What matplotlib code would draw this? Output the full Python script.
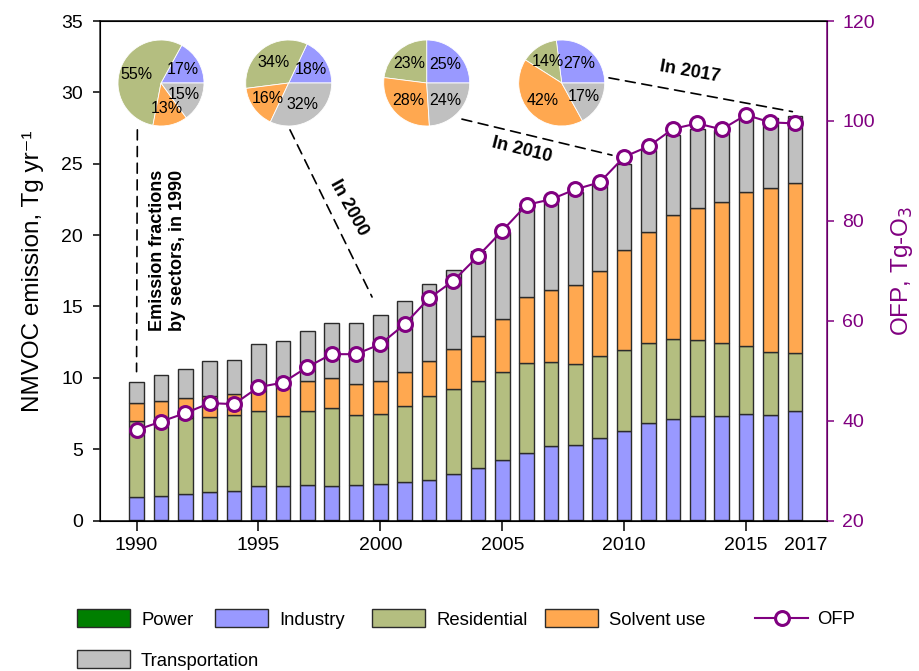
import matplotlib
matplotlib.use("Agg")
import matplotlib.pyplot as plt
from matplotlib.patches import Patch, ConnectionPatch
from matplotlib.lines import Line2D
from matplotlib.transforms import ScaledTranslation
import numpy as np

plt.rcParams['font.family'] = ['Liberation Sans', 'DejaVu Sans']

years = list(range(1990, 2018))
power = [0.03]*10 + [0.04]*10 + [0.05]*8
industry = [1.60, 1.70, 1.84, 1.95, 2.05, 2.37, 2.42, 2.49, 2.42, 2.49,
            2.55, 2.64, 2.81, 3.21, 3.62, 4.21, 4.70, 5.16, 5.28, 5.77,
            6.25, 6.76, 7.07, 7.25, 7.30, 7.44, 7.35, 7.65]
residential = [5.35, 5.27, 5.32, 5.28, 5.29, 5.25, 4.90, 5.16, 5.44, 4.90,
               4.88, 5.35, 5.85, 5.94, 6.14, 6.18, 6.32, 5.90, 5.67, 5.69,
               5.65, 5.60, 5.57, 5.35, 5.06, 4.71, 4.38, 4.06]
solvent = [1.26, 1.35, 1.40, 1.49, 1.52, 1.40, 1.98, 2.07, 2.10, 2.17,
           2.31, 2.35, 2.50, 2.82, 3.13, 3.69, 4.57, 5.07, 5.51, 5.98,
           7.02, 7.82, 8.71, 9.24, 9.92, 10.83, 11.51, 11.90]
transport = [1.47, 1.82, 2.05, 2.45, 2.33, 3.32, 3.22, 3.55, 3.84, 4.27,
             4.64, 5.02, 5.37, 5.55, 5.92, 6.08, 6.26, 6.23, 6.55, 6.02,
             6.04, 5.72, 5.60, 5.53, 5.02, 5.32, 4.91, 4.69]
ofp = [38.1, 39.8, 41.5, 43.5, 43.3, 46.7, 47.6, 50.7, 53.3, 53.3,
       55.3, 59.3, 64.5, 68.0, 72.9, 78.0, 83.2, 84.3, 86.3, 87.7,
       92.8, 94.9, 98.4, 99.5, 98.3, 101.2, 99.7, 99.5]

pie_years = [1990, 2000, 2010, 2017]
# shares: industry, residential, solvent use, transportation (%)
pie_shares = [[17, 55, 13, 15],
              [18, 34, 16, 32],
              [25, 23, 28, 24],
              [27, 14, 42, 17]]

sector_names = ['Power', 'Industry', 'Residential', 'Solvent use', 'Transportation']
colors = {'Power': '#007F00', 'Industry': '#9999FF', 'Residential': '#B4BE80',
          'Solvent use': '#FFA850', 'Transportation': '#C0C0C0'}
purple = '#800080'
edge = '#2b2b2b'

W, H = 919, 671
fig = plt.figure(figsize=(W/100, H/100), dpi=100)
ax = fig.add_axes([99.5/W, 1-520.5/H, (827-99.5)/W, (520.5-21)/H])

series = [power, industry, residential, solvent, transport]
bottom = np.zeros(len(years))
for name, vals in zip(sector_names, series):
    ax.bar(years, vals, width=0.6, bottom=bottom, color=colors[name],
           edgecolor=edge, linewidth=1.0, zorder=2)
    bottom = bottom + np.array(vals)

ax.set_xlim(1988.48, 2018.32)
ax.set_ylim(0, 35)
ax.set_yticks(range(0, 36, 5))
ax.set_xticks([1990, 1995, 2000, 2005, 2010, 2015, 2017])
ax.set_xticklabels(['1990', '1995', '2000', '2005', '2010', '2015', '2017'])
ax.tick_params(axis='x', direction='out', length=7, width=1.1, labelsize=14, pad=5)
ax.tick_params(axis='y', direction='out', length=5, width=1.1, labelsize=14, pad=7)
xt = ax.xaxis.get_major_ticks()[-1]
xt.tick1line.set_visible(False)
lbl = xt.label1
lbl.set_transform(lbl.get_transform() + ScaledTranslation(8/72, 0, fig.dpi_scale_trans))
for s in ['left', 'bottom', 'top']:
    ax.spines[s].set_linewidth(1.1)
ax.spines['left'].set_color('#333333')
ax.set_ylabel('NMVOC emission, Tg yr\u207b\u00b9', fontsize=17.5, labelpad=12)

ax2 = ax.twinx()
ax2.plot(years, ofp, color=purple, lw=1.5, marker='o', ms=10, mfc='white',
         mec=purple, mew=2.2, zorder=5)
ax2.set_ylim(20, 120)
ax2.set_yticks(range(20, 121, 20))
ax2.tick_params(axis='y', direction='out', length=5, width=1.1, labelsize=14,
                pad=6, colors=purple)
ax2.spines['right'].set_color(purple)
ax2.spines['right'].set_linewidth(1.1)
ax2.set_ylabel('OFP, Tg-O$_3$', fontsize=17.5, color=purple, labelpad=10)

# pies
pie_centers = [(161, 83), (288.7, 83), (426.7, 83), (561.7, 83)]
R = 43
pie_cols = [colors['Industry'], colors['Residential'], colors['Solvent use'], colors['Transportation']]
pie_axes = []
for (cx, cy), shares in zip(pie_centers, pie_shares):
    pa = fig.add_axes([(cx-R)/W, 1-(cy+R)/H, 2*R/W, 2*R/H])
    pa.pie(shares, colors=pie_cols, startangle=0, counterclock=True,
           labels=None, autopct=lambda p: '%d%%' % round(p), pctdistance=0.6,
           wedgeprops=dict(edgecolor='white', linewidth=0.6),
           textprops=dict(fontsize=11.5, color='black'))
    pa.set_xlim(-1, 1); pa.set_ylim(-1, 1)
    pa.set_aspect('equal')
    pa.axis('off')
    pie_axes.append(pa)

# connection lines from pies to bars
starts = [(-0.55, -1.09), (0.03, -1.09), (0.82, -0.84), (1.1, 0.12)]
ends = [(1990.0, 10.43), (1999.66, 15.66), (2009.5, 25.6), (2016.9, 28.65)]
for pa, st, en in zip(pie_axes, starts, ends):
    cp = ConnectionPatch(xyA=st, coordsA=pa.transData, xyB=en, coordsB=ax.transData,
                         linestyle=(0, (6, 4)), lw=1.2, color='black', zorder=10)
    fig.add_artist(cp)

ax.text(1991.27, 18.96, 'Emission fractions\nby sectors, in 1990', rotation=90,
        ha='center', va='center', multialignment='left', fontsize=13, fontweight='bold')
ax.text(1998.72, 21.9, 'In 2000', rotation=-61, ha='center', va='center',
        fontsize=13, fontweight='bold')
ax.text(2005.81, 25.96, 'In 2010', rotation=-14, ha='center', va='center',
        fontsize=13, fontweight='bold')
ax.text(2012.7, 31.43, 'In 2017', rotation=-10, ha='center', va='center',
        fontsize=13, fontweight='bold')

# legend items, placed individually
leg_items = [('Power', 77, 619), ('Industry', 215, 619), ('Residential', 372, 619),
             ('Solvent use', 545, 619), ('Transportation', 77, 660)]
for name, lx, ly in leg_items:
    h = Patch(facecolor=colors[name], edgecolor=edge, linewidth=1.0)
    fig.legend([h], [name], loc='center left', bbox_to_anchor=(lx/W, 1-ly/H),
               frameon=False, fontsize=13.3, handlelength=2.87, handleheight=1.1,
               handletextpad=0.6, borderpad=0, borderaxespad=0)
ofp_h = Line2D([0], [0], color=purple, lw=1.5, marker='o', ms=10, mfc='white',
               mec=purple, mew=2.2)
fig.legend([ofp_h], ['OFP'], loc='center left', bbox_to_anchor=(755/W, 1-620/H),
           frameon=False, fontsize=13.3, handlelength=2.87, handletextpad=0.5,
           borderpad=0, borderaxespad=0)

fig.savefig('out.png', dpi=100)
